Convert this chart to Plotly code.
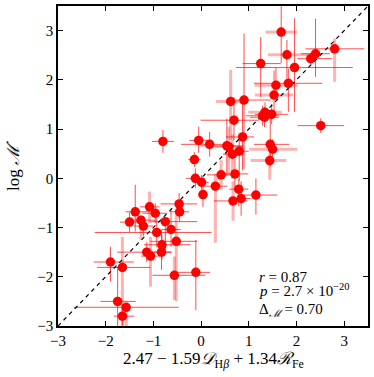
import plotly.graph_objects as go

# Data
x = [1.68, 2.80, 2.40, 2.30, 1.80, 1.25, 1.96, 1.83, 1.57, 1.53,
     0.90, 0.62, 0.69, 1.34, 1.29, 1.33, 1.48, 2.51, 0.87, 0.54,
     0.58, 0.66, 0.80, 1.45, 1.50, 1.44, 0.18, -0.80, -0.05, -0.14,
     0.42, 0.71, 0.30, 0.04, 0.79, 0.67, 0.84, 1.15, 0.01, -0.12,
     -0.46, -0.45, -1.38, -1.08, -0.96, -1.26, -1.50, -1.21, -0.75, -0.93,
     -0.63, -0.82, -0.52, -1.14, -1.06, -0.83, -1.90, -1.65, -0.56, -0.11,
     -1.75, -1.57, -1.65]
y = [2.97, 2.63, 2.53, 2.43, 2.51, 2.33, 2.25, 1.93, 1.89, 1.69,
     1.59, 1.56, 1.18, 1.34, 1.27, 1.24, 1.30, 1.07, 0.84, 0.66,
     0.64, 0.49, 0.55, 0.69, 0.59, 0.36, 0.69, 0.75, 0.77, 0.38,
     0.07, 0.09, -0.16, -0.33, -0.22, -0.46, -0.41, -0.34, -0.08, 0.00,
     -0.52, -0.68, -0.68, -0.58, -0.71, -0.85, -0.89, -0.97, -0.88, -1.10,
     -1.04, -1.35, -1.28, -1.50, -1.58, -1.50, -1.70, -1.81, -1.97, -1.91,
     -2.50, -2.62, -2.80]
xerr_lo = [0.33, 0.61, 0.30, 0.28, 0.40, 0.38, 1.23, 0.72, 0.45, 0.40,
           0.28, 0.31, 0.70, 0.35, 0.35, 0.30, 0.35, 0.49, 0.35, 0.55,
           0.30, 0.20, 0.20, 0.34, 0.49, 0.40, 0.60, 0.23, 0.20, 0.13,
           0.30, 0.28, 0.30, 0.10, 0.20, 0.40, 0.20, 0.25, 0.15, 0.20,
           0.39, 0.20, 0.20, 0.20, 0.27, 0.30, 0.20, 0.20, 0.31, 1.30,
           0.20, 0.38, 0.54, 0.62, 0.20, 0.20, 0.35, 0.53, 0.46, 0.43,
           0.36, 1.10, 0.18]
xerr_hi = [0.33, 0.62, 0.30, 0.45, 0.50, 0.42, 1.22, 0.71, 0.45, 0.40,
           0.56, 0.28, 0.52, 0.35, 0.35, 0.30, 0.35, 0.49, 0.24, 0.35,
           0.30, 0.20, 0.20, 0.40, 0.52, 0.35, 0.30, 0.23, 0.20, 0.13,
           0.30, 0.28, 0.25, 0.10, 0.20, 0.30, 0.20, 0.45, 0.15, 0.20,
           0.38, 0.20, 0.30, 0.20, 0.25, 0.30, 0.22, 0.20, 0.67, 1.15,
           0.20, 0.60, 0.44, 0.53, 0.20, 0.20, 0.49, 0.59, 0.65, 0.30,
           0.38, 1.10, 0.25]
yerr_lo = [0.63, 0.67, 0.47, 0.12, 0.48, 0.68, 0.90, 0.58, 0.30, 0.37,
           1.40, 0.78, 0.40, 0.20, 0.20, 0.20, 0.20, 0.15, 0.68, 0.60,
           0.55, 0.50, 0.60, 0.45, 0.20, 0.39, 0.25, 0.23, 0.25, 0.15,
           0.30, 0.35, 1.15, 0.25, 0.35, 0.40, 0.35, 0.40, 0.15, 0.20,
           0.30, 0.20, 0.40, 0.33, 0.20, 0.40, 0.20, 0.20, 0.64, 0.30,
           0.35, 0.30, 1.22, 0.20, 0.62, 0.36, 0.40, 1.20, 0.50, 0.77,
           0.60, 0.40, 0.25]
yerr_hi = [0.80, 0.21, 0.71, 0.12, 0.30, 0.54, 1.00, 0.30, 0.35, 0.50,
           1.35, 0.64, 0.47, 0.20, 0.20, 0.20, 0.20, 0.15, 0.81, 0.55,
           0.40, 0.40, 0.30, 0.55, 0.20, 0.15, 0.25, 0.23, 0.28, 0.15,
           0.30, 0.30, 0.25, 0.25, 0.20, 0.40, 0.35, 0.34, 0.15, 0.20,
           0.22, 0.20, 0.55, 0.31, 0.20, 0.10, 0.20, 0.20, 0.10, 0.30,
           0.39, 0.20, 0.64, 0.20, 0.39, 0.45, 0.31, 0.62, 0.38, 0.66,
           0.70, 0.10, 0.25]
# which error bars are drawn in the pale, thick style
pale_x = [1, 0, 0, 0, 1, 0, 0, 0, 1, 1,
          0, 1, 0, 1, 0, 0, 0, 0, 0, 0,
          0, 0, 0, 0, 1, 1, 0, 0, 0, 0,
          0, 0, 0, 0, 0, 0, 0, 0, 0, 0,
          0, 0, 0, 0, 0, 0, 0, 0, 0, 0,
          0, 0, 0, 0, 0, 0, 0, 0, 0, 0,
          0, 0, 0]
pale_y = [0, 1, 0, 0, 0, 0, 0, 0, 0, 0,
          0, 1, 0, 0, 0, 0, 0, 0, 0, 0,
          1, 1, 0, 0, 0, 1, 0, 0, 0, 0,
          1, 0, 1, 0, 0, 1, 0, 0, 0, 0,
          0, 0, 0, 1, 0, 1, 0, 0, 0, 0,
          0, 0, 1, 0, 1, 0, 0, 1, 1, 0,
          0, 1, 0]

AX_RANGE = [-3, 3.5]
TICKS = [-3, -2, -1, 0, 1, 2, 3]
FONT = 'Liberation Serif'
RED = 'rgb(255,0,0)'


def split(vals, flags, pale):
    return [v if (f == 1) == pale else 0 for v, f in zip(vals, flags)]


fig = go.Figure()

# pale thick error bars
fig.add_trace(go.Scatter(
    x=x, y=y, mode='markers',
    marker=dict(size=1, color='rgba(0,0,0,0)'),
    error_x=dict(type='data', symmetric=False,
                 array=split(xerr_hi, pale_x, True), arrayminus=split(xerr_lo, pale_x, True),
                 color='rgba(255,0,0,0.3)', thickness=3, width=0),
    error_y=dict(type='data', symmetric=False,
                 array=split(yerr_hi, pale_y, True), arrayminus=split(yerr_lo, pale_y, True),
                 color='rgba(255,0,0,0.3)', thickness=3, width=0),
    hoverinfo='skip'
))

# thin error bars
fig.add_trace(go.Scatter(
    x=x, y=y, mode='markers',
    marker=dict(size=1, color='rgba(0,0,0,0)'),
    error_x=dict(type='data', symmetric=False,
                 array=split(xerr_hi, pale_x, False), arrayminus=split(xerr_lo, pale_x, False),
                 color='rgba(255,0,0,0.7)', thickness=1, width=0),
    error_y=dict(type='data', symmetric=False,
                 array=split(yerr_hi, pale_y, False), arrayminus=split(yerr_lo, pale_y, False),
                 color='rgba(255,0,0,0.7)', thickness=1, width=0),
    hoverinfo='skip'
))

# one-to-one line
fig.add_trace(go.Scatter(
    x=AX_RANGE, y=AX_RANGE, mode='lines',
    line=dict(color='black', width=1.2, dash='4px,4px'),
    hoverinfo='skip'
))

# points
fig.add_trace(go.Scatter(
    x=x, y=y, mode='markers',
    marker=dict(size=9.5, color=RED, line=dict(width=0))
))

axis_style = dict(
    range=AX_RANGE, tickvals=TICKS, ticktext=[str(t).replace('-', '\u2212') for t in TICKS],
    ticks='inside', ticklen=5, tickwidth=1, tickcolor='black',
    showline=True, linecolor='black', linewidth=1.5, mirror='allticks',
    showgrid=False, zeroline=False, automargin=False,
    tickfont=dict(family=FONT, size=15, color='black'),
)

fig.update_layout(
    width=374, height=377,
    margin=dict(l=58, r=6, t=6, b=51, autoexpand=False),
    paper_bgcolor='white', plot_bgcolor='white',
    showlegend=False,
    xaxis=axis_style,
    yaxis=axis_style,
)

# axis titles
fig.add_annotation(
    x=0.5, y=0, xref='paper', yref='paper', xanchor='center', yanchor='middle',
    yshift=-34, showarrow=False,
    text='2.47 \u2212 1.59<i>\U0001D49F</i><sub>H<i>\u03b2</i></sub> + 1.34<i>\u211b</i><sub>Fe</sub>',
    font=dict(family=FONT, size=17, color='black')
)
fig.add_annotation(
    x=0, y=0.5, xref='paper', yref='paper', xanchor='center', yanchor='middle',
    xshift=-45, textangle=-90, showarrow=False,
    text='log <i>\u2133\u0307</i>',
    font=dict(family=FONT, size=17, color='black')
)

# statistics
stats = ['<i>r</i> = 0.87',
         '<i>p</i> = 2.7 \u00d7 10<sup>\u221220</sup>',
         '\u0394<sub><i>\u2133</i></sub> = 0.70']
stat_y = [-2.0, -2.27, -2.68]
for s, sy in zip(stats, stat_y):
    fig.add_annotation(
        x=1.17, y=sy, xref='x', yref='y', xanchor='left', yanchor='middle',
        text=s, showarrow=False,
        font=dict(family=FONT, size=15, color='black')
    )

fig.write_html("out.html", config={'displayModeBar': False},
               post_script="document.body.style.margin='0';document.body.style.overflow='hidden';")
